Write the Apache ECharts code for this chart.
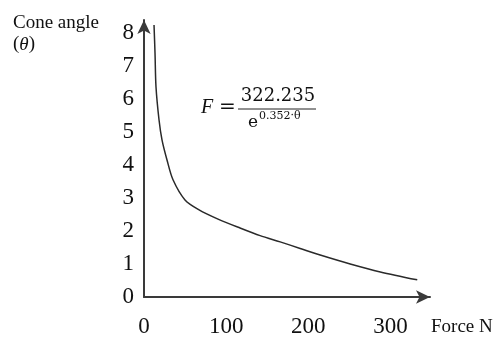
<!DOCTYPE html>
<html>
<head>
<meta charset="utf-8">
<script src="https://cdn.jsdelivr.net/npm/echarts@6/dist/echarts.min.js"></script>
<style>
    html, body {margin: 0; padding: 0; background: #fff;}
    #chart {width: 498px; height: 338px;}
</style>
</head>
<body>
<div id="chart"></div>
<script>
    // force (N) vs cone angle
    const force = [12.2, 13.4, 14.6, 18.3, 21.9, 28.0, 35.3, 49.9, 67.0, 90.1, 116.9, 141.3, 165.7, 190.0, 214.4, 250.9, 287.5, 332.5];
    const angle = [8.24, 7.39, 6.36, 5.36, 4.76, 4.15, 3.55, 2.94, 2.64, 2.36, 2.09, 1.86, 1.67, 1.47, 1.27, 1.00, 0.76, 0.52];
    const xTicks = [0, 100, 200, 300];
    const yTicks = [0, 1, 2, 3, 4, 5, 6, 7, 8];

    const serif = 'Liberation Serif';
    const axisColor = '#3a3a3a';

    const myChart = echarts.init(document.getElementById('chart'));
    myChart.setOption({
        animation: false,
        grid: {left: 144, right: 68, top: 20, bottom: 41},
        xAxis: {
            type: 'value',
            min: 0,
            max: 348,
            splitLine: {show: false},
            axisTick: {show: false},
            axisLine: {
                show: true,
                symbol: ['none', 'arrow'],
                symbolSize: [10, 14],
                lineStyle: {color: axisColor, width: 2}
            },
            axisLabel: {
                customValues: xTicks,
                color: '#111',
                fontFamily: serif,
                fontSize: 23,
                margin: 18
            }
        },
        yAxis: {
            type: 'value',
            min: 0,
            max: 8.39,
            splitLine: {show: false},
            axisTick: {show: false},
            axisLine: {
                show: true,
                symbol: ['none', 'arrow'],
                symbolSize: [10, 14],
                lineStyle: {color: axisColor, width: 2}
            },
            axisLabel: {
                customValues: yTicks,
                color: '#111',
                fontFamily: serif,
                fontSize: 23,
                margin: 10
            }
        },
        series: [{
            type: 'line',
            data: force.map((f, i) => [f, angle[i]]),
            smooth: 0.3,
            showSymbol: false,
            lineStyle: {color: '#2a2a2a', width: 1.5}
        }],
        graphic: [
            // axis names
            {type: 'text', left: 13, top: 14, style: {text: 'Cone angle', font: '19px ' + serif, fill: '#111'}},
            {type: 'text', left: 13, top: 35, style: {
                text: '({t|θ})',
                font: '19px ' + serif, fill: '#111',
                rich: {t: {fontStyle: 'italic', fontFamily: serif, fontSize: 19}}
            }},
            {type: 'text', left: 431, top: 318, style: {text: 'Force N', font: '19px ' + serif, fill: '#111'}},
            // formula
            {type: 'text', x: 201, y: 108, style: {text: 'F', font: 'italic 20px ' + serif, fill: '#111', verticalAlign: 'middle'}},
            {type: 'text', x: 219, y: 108, style: {text: '=', font: '20px DejaVu Serif', fill: '#111', verticalAlign: 'middle'}},
            {type: 'text', x: 278, y: 96, style: {text: '322.235', font: '18px DejaVu Serif', fill: '#111', align: 'center', verticalAlign: 'middle'}},
            {type: 'line', shape: {x1: 238, y1: 109, x2: 316, y2: 109}, style: {stroke: '#222', lineWidth: 1}},
            {type: 'text', x: 248, y: 123, style: {text: 'e', font: '17px DejaVu Serif', fill: '#111', verticalAlign: 'middle'}},
            {type: 'text', x: 259, y: 116, style: {text: '0.352·θ', font: '11px DejaVu Serif', fill: '#111', verticalAlign: 'middle'}}
        ]
    });
</script>
</body>
</html>
